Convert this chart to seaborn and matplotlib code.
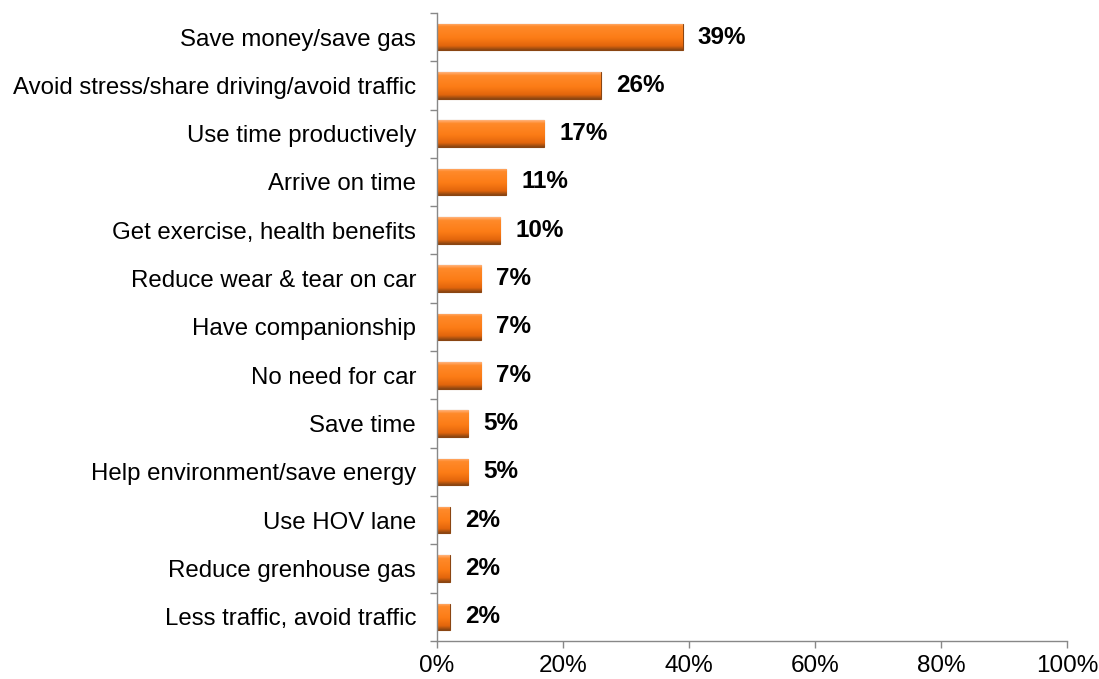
import matplotlib
matplotlib.use("Agg")
import matplotlib.pyplot as plt
import numpy as np
import pandas as pd
import seaborn as sns
from matplotlib.colors import LinearSegmentedColormap
from matplotlib.ticker import FixedLocator, PercentFormatter

# data
reasons = [
    "Save money/save gas",
    "Avoid stress/share driving/avoid traffic",
    "Use time productively",
    "Arrive on time",
    "Get exercise, health benefits",
    "Reduce wear & tear on car",
    "Have companionship",
    "No need for car",
    "Save time",
    "Help environment/save energy",
    "Use HOV lane",
    "Reduce grenhouse gas",
    "Less traffic, avoid traffic",
]
shares = [39, 26, 17, 11, 10, 7, 7, 7, 5, 5, 2, 2, 2]

df = pd.DataFrame({"reason": reasons, "share": shares})

sns.set_theme(style="white")
plt.rcParams["font.family"] = ["Liberation Sans", "DejaVu Sans"]

fig = plt.figure(figsize=(10.99, 6.79), dpi=100)
ax = fig.add_axes([0.3976, 0.056, 0.5734, 0.925])

sns.barplot(data=df, x="share", y="reason", color="#FA7B1E", width=0.55,
            edgecolor="#8A4512", linewidth=0.8, saturation=1, ax=ax)

# shaded look: light top edge, orange body, dark bottom
shade = LinearSegmentedColormap.from_list(
    "bar", [(0, "#FFB27A"), (0.12, "#FF8A2A"), (0.55, "#FC7C16"),
            (0.85, "#E2650C"), (1, "#8A4512")])
grad = np.linspace(0, 1, 64).reshape(-1, 1)
for p in ax.patches:
    x0, y0 = p.get_x(), p.get_y()
    w, h = p.get_width(), p.get_height()
    im = ax.imshow(grad, cmap=shade, aspect="auto", origin="upper",
                   extent=[x0, x0 + w, y0 + h, y0], zorder=p.get_zorder() + 0.1)
    im.set_clip_path(p)

for i, v in enumerate(shares):
    ax.text(v + 2.4, i, f"{v}%", va="center", ha="left",
            fontsize=17.5, fontweight="bold", color="black")

ax.set_xlim(0, 100)
ax.set_ylim(len(reasons) - 0.5, -0.5)
ax.set_aspect("auto")
ax.xaxis.set_major_formatter(PercentFormatter(decimals=0))
ax.set_xticks([0, 20, 40, 60, 80, 100])
ax.set_xlabel("")
ax.set_ylabel("")

# y ticks sit at category boundaries
ax.yaxis.set_minor_locator(FixedLocator(np.arange(-0.5, len(reasons), 1)))
ax.tick_params(axis="y", which="major", length=0, labelsize=17.3, pad=15, colors="black")
ax.tick_params(axis="y", which="minor", length=5, width=1, color="#888888", left=True)
ax.tick_params(axis="x", which="major", length=5, width=1, color="#888888", bottom=True,
               labelsize=17.5, pad=5, labelcolor="black")

for s in ["top", "right"]:
    ax.spines[s].set_visible(False)
for s in ["left", "bottom"]:
    ax.spines[s].set_color("#888888")
    ax.spines[s].set_linewidth(1)

plt.savefig("out.png", dpi=100)
